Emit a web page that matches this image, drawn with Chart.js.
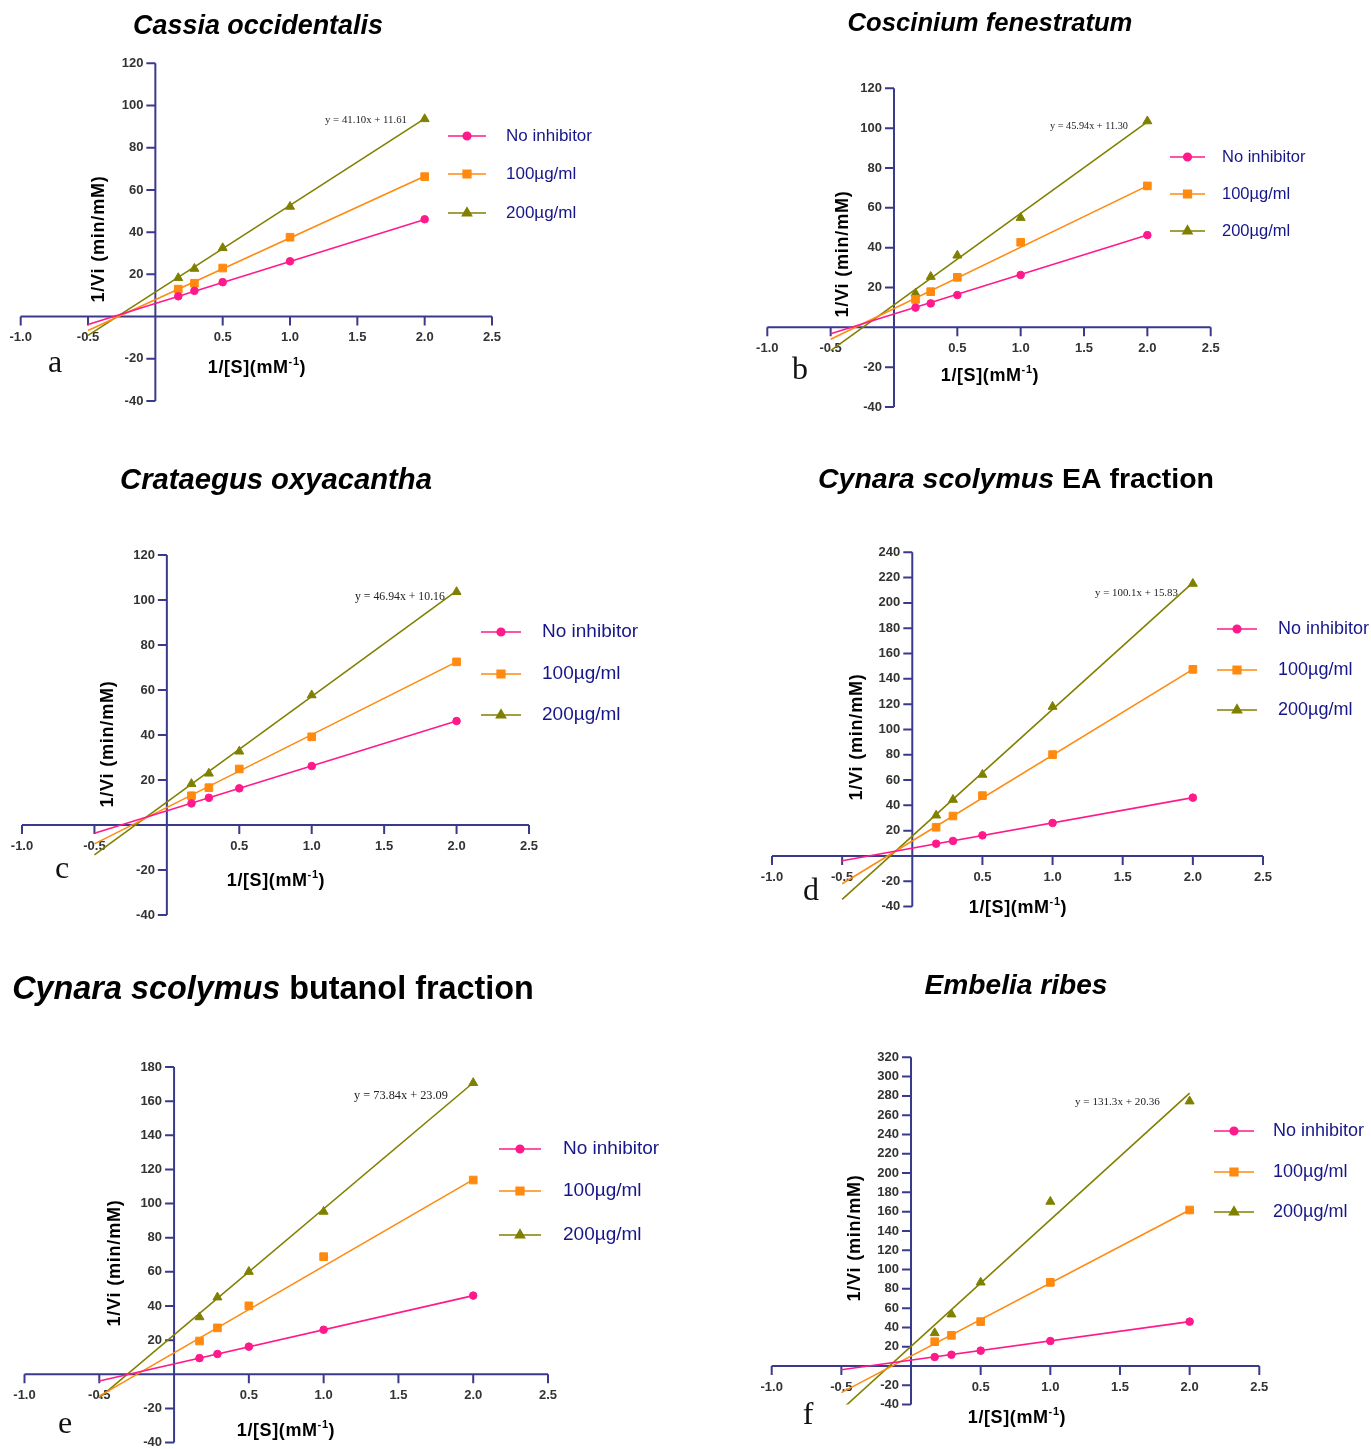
<!DOCTYPE html>
<html>
<head>
<meta charset="utf-8">
<script src="https://cdn.jsdelivr.net/npm/chart.js@4.4.1/dist/chart.umd.min.js"></script>
<style>
  body { margin: 0; background: #fff; }
  #page { position: relative; width: 1371px; height: 1449px; overflow: hidden; background: #fff; }
  #page canvas { position: absolute; }
</style>
</head>
<body>
<div id="page"></div>
<script>
// Lineweaver-Burk plots, six extracts

const seriesNames = ["No inhibitor", "100µg/ml", "200µg/ml"];
const invS = [0.17, 0.29, 0.5, 1.0, 2.0];      // 1/[S] (mM-1)
const fitX = [-0.5, 2.0];                       // ends of the fitted lines
const xTicks = [-1.0, -0.5, 0, 0.5, 1.0, 1.5, 2.0, 2.5];
const xTickLabels = ["-1.0", "-0.5", "", "0.5", "1.0", "1.5", "2.0", "2.5"];

// a - Cassia occidentalis
const aNone = [9.6, 12.2, 16.3, 26.2, 46.1];
const a100 = [13.0, 15.8, 23.0, 37.6, 66.3];
const a200 = [18.3, 22.7, 32.5, 52.1, 93.6];
const aFitNone = [-3.8, 46.0];
const aFit100 = [-6.6, 66.5];
const aFit200 = [-8.94, 93.81];
const aYTicks = [-40, -20, 0, 20, 40, 60, 80, 100, 120];

// b - Coscinium fenestratum
const bNone = [9.9, 12.0, 16.2, 26.3, 46.3];
const b100 = [14.0, 17.9, 25.1, 42.7, 71.0];
const b200 = [17.0, 25.4, 36.1, 55.0, 103.5];
const bFitNone = [-3.2, 46.3];
const bFit100 = [-6.0, 71.0];
const bFit200 = [-11.67, 103.18];
const bYTicks = [-40, -20, 0, 20, 40, 60, 80, 100, 120];

// c - Crataegus oxyacantha
const cNone = [9.6, 12.1, 16.3, 26.2, 46.2];
const c100 = [13.0, 16.6, 24.9, 39.2, 72.5];
const c200 = [18.3, 22.9, 32.7, 57.7, 103.6];
const cFitNone = [-3.7, 46.2];
const cFit100 = [-8.4, 72.5];
const cFit200 = [-13.31, 104.04];
const cYTicks = [-40, -20, 0, 20, 40, 60, 80, 100, 120];

// d - Cynara scolymus EA fraction
const dNone = [9.7, 11.9, 16.3, 26.1, 46.1];
const d100 = [22.7, 31.6, 47.7, 80.1, 147.5];
const d200 = [32.1, 44.5, 64.3, 118.0, 215.2];
const dFitNone = [-3.7, 46.1];
const dFit100 = [-21.9, 147.5];
const dFit200 = [-34.22, 216.03];
const dYTicks = [-40, -20, 0, 20, 40, 60, 80, 100, 120, 140, 160, 180, 200, 220, 240];

// e - Cynara scolymus butanol fraction
const eNone = [9.5, 11.9, 16.2, 26.1, 46.1];
const e100 = [19.5, 27.2, 40.1, 68.9, 113.8];
const e200 = [33.5, 45.1, 60.1, 95.3, 170.7];
const eFitNone = [-3.9, 46.1];
const eFit100 = [-12.8, 114.0];
const eFit200 = [-13.83, 170.77];
const eYTicks = [-40, -20, 0, 20, 40, 60, 80, 100, 120, 140, 160, 180];

// f - Embelia ribes
const fNone = [9.3, 11.7, 15.9, 25.9, 46.0];
const f100 = [25.2, 31.8, 46.0, 86.7, 161.7];
const f200 = [34.2, 53.6, 86.7, 170.4, 274.4];
const fFitNone = [-3.8, 46.0];
const fFit100 = [-27.6, 161.7];
const fFit200 = [-45.29, 282.96];
const fYTicks = [-40, -20, 0, 20, 40, 60, 80, 100, 120, 140, 160, 180, 200, 220, 240, 260, 280, 300, 320];

const COLORS = ["#ff1a8c", "#ff8a0f", "#808000"];
const STYLES = ["circle", "rect", "triangle"];
const RADII = [3.8, 5.4, 5.2];
const AXIS = "#3a3a8c";
const LEGEND_TEXT = "#16168a";

// page layout of each panel (page pixels)
const panels = [
  {
    letter: "a", title: [["Cassia occidentalis", true]], equation: "y = 41.10x + 11.61",
    series: [aNone, a100, a200], fits: [aFitNone, aFit100, aFit200], yTicks: aYTicks,
    box: { left: 0, top: 0, w: 685, h: 455 }, area: { l: 20.7, r: 492, t: 63.3, b: 401 },
    titlePos: { cx: 258, cy: 27, w: 250 }, letterPos: [55, 364],
    yTitle: [99, 239], xTitle: [257, 368], eqPos: { x: 325, y: 120, w: 82 },
    legend: { x0: 448, x1: 486, tx: 506, rows: [136, 174, 213], size: 17 }
  },
  {
    letter: "b", title: [["Coscinium fenestratum", true]], equation: "y = 45.94x + 11.30",
    series: [bNone, b100, b200], fits: [bFitNone, bFit100, bFit200], yTicks: bYTicks,
    box: { left: 685, top: 0, w: 686, h: 455 }, area: { l: 767.3, r: 1210.7, t: 88.3, b: 407 },
    titlePos: { cx: 990, cy: 24, w: 285 }, letterPos: [800, 371],
    yTitle: [843, 254], xTitle: [990, 376], eqPos: { x: 1050, y: 126, w: 78 },
    legend: { x0: 1170, x1: 1205, tx: 1222, rows: [157, 194, 231], size: 16.5 }
  },
  {
    letter: "c", title: [["Crataegus oxyacantha", true]], equation: "y = 46.94x + 10.16",
    series: [cNone, c100, c200], fits: [cFitNone, cFit100, cFit200], yTicks: cYTicks,
    box: { left: 0, top: 455, w: 685, h: 490 }, area: { l: 22, r: 529, t: 555, b: 915 },
    titlePos: { cx: 276, cy: 481, w: 312 }, letterPos: [62, 870],
    yTitle: [108, 744], xTitle: [276, 881], eqPos: { x: 355, y: 597, w: 90 },
    legend: { x0: 481, x1: 521, tx: 542, rows: [632, 674, 715], size: 19 }
  },
  {
    letter: "d", title: [["Cynara scolymus", true], [" EA fraction", false]], equation: "y = 100.1x + 15.83",
    series: [dNone, d100, d200], fits: [dFitNone, dFit100, dFit200], yTicks: dYTicks,
    box: { left: 685, top: 455, w: 686, h: 490 }, area: { l: 772, r: 1263, t: 552.3, b: 906.6 },
    titlePos: { cx: 1016, cy: 480, w: 396 }, letterPos: [811, 892],
    yTitle: [857, 737], xTitle: [1018, 908], eqPos: { x: 1095, y: 593, w: 83 },
    legend: { x0: 1217, x1: 1257, tx: 1278, rows: [629, 670, 710], size: 18 }
  },
  {
    letter: "e", title: [["Cynara scolymus", true], [" butanol fraction", false]], equation: "y = 73.84x + 23.09",
    series: [eNone, e100, e200], fits: [eFitNone, eFit100, eFit200], yTicks: eYTicks,
    box: { left: 0, top: 945, w: 685, h: 504 }, area: { l: 24.5, r: 548, t: 1067, b: 1443.5 },
    titlePos: { cx: 273, cy: 990, w: 522 }, letterPos: [65, 1425],
    yTitle: [115, 1263], xTitle: [286, 1431], eqPos: { x: 354, y: 1096, w: 94 },
    legend: { x0: 499, x1: 541, tx: 563, rows: [1149, 1191, 1235], size: 19 }
  },
  {
    letter: "f", title: [["Embelia ribes", true]], equation: "y = 131.3x + 20.36",
    series: [fNone, f100, f200], fits: [fFitNone, fFit100, fFit200], yTicks: fYTicks,
    box: { left: 685, top: 945, w: 686, h: 504 }, area: { l: 771.7, r: 1259.3, t: 1057.3, b: 1404.6 },
    titlePos: { cx: 1016, cy: 986, w: 183 }, letterPos: [808, 1416],
    yTitle: [855, 1238], xTitle: [1017, 1418], eqPos: { x: 1075, y: 1102, w: 85 },
    legend: { x0: 1214, x1: 1254, tx: 1273, rows: [1131, 1172, 1212], size: 18 }
  }
];

function fittedSize(ctx, runs, family, targetW) {
  let w = 0;
  runs.forEach(([t, it]) => {
    ctx.font = `${it ? "italic " : ""}bold 100px ${family}`;
    w += ctx.measureText(t).width;
  });
  return 100 * targetW / w;
}

function drawRuns(ctx, runs, cx, cy, size, family, color) {
  let total = 0;
  runs.forEach(([t, it]) => {
    ctx.font = `${it ? "italic " : ""}bold ${size}px ${family}`;
    total += ctx.measureText(t).width;
  });
  let x = cx - total / 2;
  ctx.fillStyle = color;
  ctx.textAlign = "left";
  ctx.textBaseline = "middle";
  runs.forEach(([t, it]) => {
    ctx.font = `${it ? "italic " : ""}bold ${size}px ${family}`;
    ctx.fillText(t, x, cy);
    x += ctx.measureText(t).width;
  });
}

function makePlugin(p) {
  const ox = p.box.left, oy = p.box.top;
  return {
    id: "kinetics",
    beforeDatasetsDraw(chart) {
      const { ctx, chartArea: ca, scales: { x, y } } = chart;
      const x0 = x.getPixelForValue(0), y0 = y.getPixelForValue(0);
      ctx.save();
      ctx.strokeStyle = AXIS;
      ctx.lineWidth = 2;
      ctx.beginPath();
      ctx.moveTo(ca.left, y0); ctx.lineTo(ca.right, y0);
      ctx.moveTo(x0, ca.top); ctx.lineTo(x0, ca.bottom);
      xTicks.forEach(v => {
        const px = x.getPixelForValue(v);
        ctx.moveTo(px, y0); ctx.lineTo(px, y0 + 9);
      });
      p.yTicks.forEach(v => {
        const py = y.getPixelForValue(v);
        ctx.moveTo(x0 - 9, py); ctx.lineTo(x0, py);
      });
      ctx.stroke();

      ctx.fillStyle = "#333";
      ctx.font = "bold 13px Arial";
      ctx.textAlign = "center";
      ctx.textBaseline = "middle";
      xTicks.forEach((v, i) => ctx.fillText(xTickLabels[i], x.getPixelForValue(v), y0 + 21));
      ctx.textAlign = "right";
      p.yTicks.forEach(v => {
        if (v !== 0) ctx.fillText(String(v), x0 - 12, y.getPixelForValue(v));
      });
      ctx.restore();
    },
    afterDraw(chart) {
      const ctx = chart.ctx;
      ctx.save();
      // title
      const ts = fittedSize(ctx, p.title, "Arial", p.titlePos.w);
      drawRuns(ctx, p.title, p.titlePos.cx - ox, p.titlePos.cy - oy, ts, "Arial", "#000");

      // panel letter
      ctx.fillStyle = "#111";
      ctx.font = "32px 'Liberation Serif'";
      ctx.textAlign = "center";
      ctx.textBaseline = "middle";
      ctx.fillText(p.letter, p.letterPos[0] - ox, p.letterPos[1] - oy);

      // y axis title
      ctx.save();
      ctx.translate(p.yTitle[0] - ox, p.yTitle[1] - oy);
      ctx.rotate(-Math.PI / 2);
      ctx.fillStyle = "#000";
      ctx.font = "bold 18px Arial";
      ctx.letterSpacing = "0.8px";
      ctx.fillText("1/Vi (min/mM)", 0, 0);
      ctx.restore();

      // x axis title with superscript
      ctx.letterSpacing = "0.6px";
      const big = "bold 18px Arial", small = "bold 11px Arial";
      ctx.font = big;
      const w1 = ctx.measureText("1/[S](mM").width;
      const w3 = ctx.measureText(")").width;
      ctx.font = small;
      const w2 = ctx.measureText("-1").width;
      let xs = p.xTitle[0] - ox - (w1 + w2 + w3) / 2;
      const yb = p.xTitle[1] - oy;
      ctx.textAlign = "left";
      ctx.fillStyle = "#000";
      ctx.font = big; ctx.fillText("1/[S](mM", xs, yb); xs += w1;
      ctx.font = small; ctx.fillText("-1", xs, yb - 6); xs += w2;
      ctx.font = big; ctx.fillText(")", xs, yb);
      ctx.letterSpacing = "0px";

      // regression equation
      ctx.font = "100px 'Liberation Serif'";
      const es = 100 * p.eqPos.w / ctx.measureText(p.equation).width;
      ctx.font = `${es}px 'Liberation Serif'`;
      ctx.fillStyle = "#222";
      ctx.fillText(p.equation, p.eqPos.x - ox, p.eqPos.y - oy);

      // legend
      const lg = p.legend;
      seriesNames.forEach((name, i) => {
        const ry = lg.rows[i] - oy;
        ctx.strokeStyle = COLORS[i];
        ctx.fillStyle = COLORS[i];
        ctx.lineWidth = 1.6;
        ctx.beginPath();
        ctx.moveTo(lg.x0 - ox, ry); ctx.lineTo(lg.x1 - ox, ry);
        ctx.stroke();
        Chart.helpers.drawPoint(ctx, { pointStyle: STYLES[i], radius: RADII[i], borderWidth: 1, rotation: 0 },
          (lg.x0 + lg.x1) / 2 - ox, ry);
        ctx.fillStyle = LEGEND_TEXT;
        ctx.font = `${lg.size}px Arial`;
        ctx.textAlign = "left";
        ctx.textBaseline = "middle";
        ctx.fillText(name, lg.tx - ox, ry);
      });
      ctx.restore();
    }
  };
}

const page = document.getElementById("page");

panels.forEach(p => {
  const canvas = document.createElement("canvas");
  canvas.width = p.box.w;
  canvas.height = p.box.h;
  canvas.style.left = p.box.left + "px";
  canvas.style.top = p.box.top + "px";
  canvas.style.width = p.box.w + "px";
  canvas.style.height = p.box.h + "px";
  page.appendChild(canvas);

  const datasets = [];
  p.series.forEach((vals, i) => {
    datasets.push({
      label: seriesNames[i],
      data: invS.map((x, k) => ({ x: x, y: vals[k] })),
      showLine: false,
      pointStyle: STYLES[i],
      pointRadius: RADII[i],
      backgroundColor: COLORS[i],
      borderColor: COLORS[i],
      borderWidth: 1
    });
  });
  p.fits.forEach((ends, i) => {
    datasets.push({
      label: seriesNames[i] + " fit",
      data: fitX.map((x, k) => ({ x: x, y: ends[k] })),
      showLine: true,
      pointRadius: 0,
      borderColor: COLORS[i],
      borderWidth: 1.6,
      fill: false
    });
  });

  const yMax = p.yTicks[p.yTicks.length - 1];
  new Chart(canvas.getContext("2d"), {
    type: "scatter",
    data: { datasets },
    options: {
      responsive: false,
      animation: false,
      layout: {
        padding: {
          left: p.area.l - p.box.left,
          top: p.area.t - p.box.top,
          right: p.box.w - (p.area.r - p.box.left),
          bottom: p.box.h - (p.area.b - p.box.top)
        }
      },
      plugins: { legend: { display: false }, tooltip: { enabled: false }, title: { display: false } },
      scales: {
        x: { type: "linear", min: -1, max: 2.5, display: false },
        y: { type: "linear", min: -40, max: yMax, display: false }
      }
    },
    plugins: [makePlugin(p)]
  });
});
</script>
</body>
</html>
